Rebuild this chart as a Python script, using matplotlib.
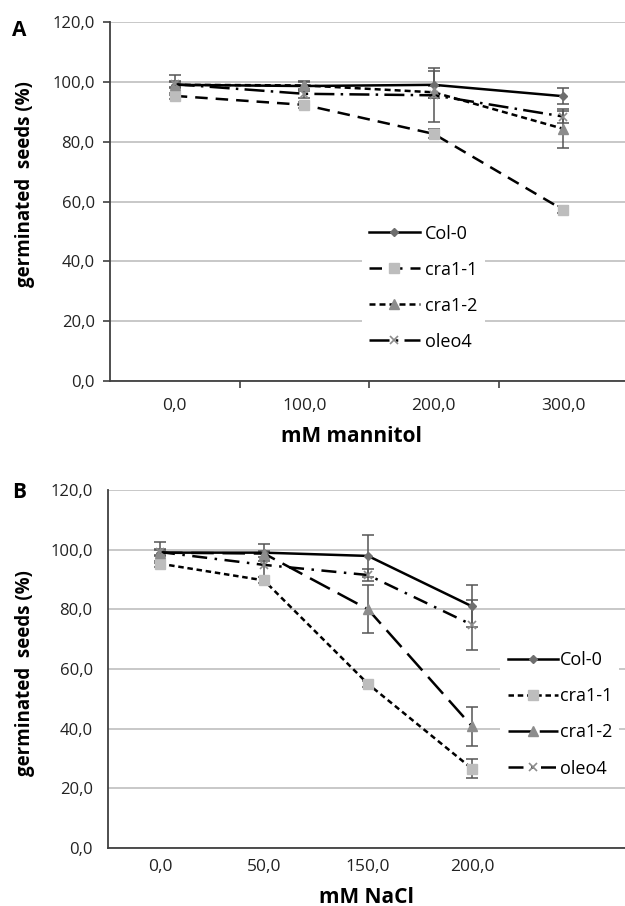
"""
Germination of seeds under mannitol and NaCl stress (two panels)
"""

import matplotlib
matplotlib.use('Agg')
import matplotlib.pyplot as plt
from matplotlib.lines import Line2D
from matplotlib.ticker import FuncFormatter

plt.rcParams['font.family'] = ['Open Sans', 'DejaVu Sans']

genotypes = ['Col-0', 'cra1-1', 'cra1-2', 'oleo4']

# Panel A: mannitol
mannitol_labels = ['0,0', '100,0', '200,0', '300,0']
mannitol_mean = {
    'Col-0': [99.0, 98.6, 99.0, 95.2],
    'cra1-1': [95.3, 92.3, 82.6, 57.2],
    'cra1-2': [99.0, 98.8, 96.5, 84.3],
    'oleo4': [99.2, 96.0, 95.5, 88.4],
}
mannitol_err = {
    'Col-0': [3.4, 1.5, 4.5, 2.7],
    'cra1-1': [1.0, 1.0, 1.5, 1.2],
    'cra1-2': [1.0, 1.5, 2.0, 6.5],
    'oleo4': [1.0, 1.5, 9.0, 2.0],
}

# Panel B: NaCl
nacl_labels = ['0,0', '50,0', '150,0', '200,0']
nacl_mean = {
    'Col-0': [99.0, 99.0, 97.9, 81.0],
    'cra1-1': [95.3, 89.7, 55.0, 26.6],
    'cra1-2': [99.0, 98.7, 80.0, 40.8],
    'oleo4': [99.2, 94.9, 91.5, 74.8],
}
nacl_err = {
    'Col-0': [3.6, 2.8, 7.0, 7.0],
    'cra1-1': [1.0, 1.0, 1.0, 3.3],
    'cra1-2': [1.0, 1.0, 8.0, 6.5],
    'oleo4': [1.0, 4.0, 2.0, 8.3],
}

W, H = 625, 906
LW = 1.8

markers = {
    'Col-0': dict(marker='D', ms=4.5, mfc='#6e6e6e', mec='#6e6e6e'),
    'cra1-1': dict(marker='s', ms=6.5, mfc='#bdbdbd', mec='#bdbdbd'),
    'cra1-2': dict(marker='^', ms=6.5, mfc='#8c8c8c', mec='#8c8c8c'),
    'oleo4': dict(marker='x', ms=6, mfc='#8c8c8c', mec='#8c8c8c', mew=1.2),
}

dashes_a = {
    'Col-0': (None, None),
    'cra1-1': (5.0, 3.2),
    'cra1-2': (2.4, 1.6),
    'oleo4': (8.0, 2.5, 1.0, 2.5),
}
dashes_b = {
    'Col-0': (None, None),
    'cra1-1': (2.2, 1.5),
    'cra1-2': (9.0, 3.5),
    'oleo4': (6.0, 3.0, 1.0, 3.0),
}


def comma_fmt(v, pos):
    return f'{v:.1f}'.replace('.', ',')


def make_axes(fig, left, right, bottom_px, top_px):
    ax = fig.add_axes([left / W, (H - bottom_px) / H,
                       (right - left) / W, (bottom_px - top_px) / H])
    ax.set_ylim(0, 120)
    ax.set_yticks(range(0, 121, 20))
    ax.yaxis.set_major_formatter(FuncFormatter(comma_fmt))
    ax.grid(axis='y', color='#c4c4c4', linewidth=1.3)
    ax.set_axisbelow(True)
    for s in ['top', 'right']:
        ax.spines[s].set_visible(False)
    for s in ['left', 'bottom']:
        ax.spines[s].set_color('#404040')
        ax.spines[s].set_linewidth(1.3)
    ax.tick_params(axis='y', labelsize=12, colors='#222222', pad=6)
    ax.tick_params(axis='x', labelsize=12.5, colors='#222222')
    return ax


def draw_series(ax, labels, means, errs, dashes):
    x = list(range(len(labels)))
    handles = []
    for g in genotypes:
        ax.errorbar(x, means[g], yerr=errs[g], fmt='none', ecolor='#555555',
                    elinewidth=1.1, capsize=4, capthick=1.1, zorder=3)
        style = dict(color='black', linewidth=LW, **markers[g])
        line, = ax.plot(x, means[g], zorder=4, **style)
        if dashes[g][0] is not None:
            line.set_dashes(dashes[g])
        h = Line2D([0], [0], **style)
        if dashes[g][0] is not None:
            h.set_dashes(dashes[g])
        handles.append(h)
    return handles


fig = plt.figure(figsize=(W / 100, H / 100), dpi=100)

# Panel A
ax = make_axes(fig, 110, 628, 381, 22)
handles = draw_series(ax, mannitol_labels, mannitol_mean, mannitol_err, dashes_a)
ax.set_xlim(-0.5, 3.5)
ax.set_xticks([0, 1, 2, 3])
ax.set_xticklabels(mannitol_labels)
ax.set_xticks([0.5, 1.5, 2.5], minor=True)
ax.tick_params(axis='x', which='major', length=0, pad=12)
ax.tick_params(axis='x', which='minor', length=5, color='#404040', width=1.2)
ax.tick_params(axis='y', length=5, color='#404040', width=1.2)
ax.set_xlabel('mM mannitol', fontsize=15, fontweight='bold')
ax.xaxis.set_label_coords((351 - 110) / 518, -0.125)
ax.set_ylabel('germinated  seeds (%)', fontsize=13.5, fontweight='bold')
ax.yaxis.set_label_coords((25 - 110) / 518, 0.549)
ax.yaxis.label.set_va('center')
ax.legend(handles, genotypes, loc='center', bbox_to_anchor=(0.605, 0.26),
          fontsize=13, handlelength=2.8, handletextpad=0.3,
          labelspacing=1.0, frameon=True, fancybox=False,
          edgecolor='none', facecolor='white', framealpha=1)
fig.text(12 / W, 1 - 30 / H, 'A', fontsize=15, fontweight='bold', va='center')

# Panel B
ax = make_axes(fig, 108, 628, 848, 490)
handles = draw_series(ax, nacl_labels, nacl_mean, nacl_err, dashes_b)
ax.set_xlim(-0.5, 4.5)
ax.set_xticks([0, 1, 2, 3])
ax.set_xticklabels(nacl_labels)
ax.tick_params(axis='both', length=0)
ax.tick_params(axis='x', pad=8)
ax.tick_params(axis='y', pad=11)
ax.set_xlabel('mM NaCl', fontsize=15, fontweight='bold')
ax.xaxis.set_label_coords((366 - 108) / 520, -0.108)
ax.set_ylabel('germinated  seeds (%)', fontsize=13.5, fontweight='bold')
ax.yaxis.set_label_coords((25 - 108) / 520, 0.49)
ax.yaxis.label.set_va('center')
ax.legend(handles, genotypes, loc='center', bbox_to_anchor=(0.869, 0.373),
          fontsize=13, handlelength=2.8, handletextpad=0.1,
          labelspacing=1.0, frameon=True, fancybox=False,
          edgecolor='none', facecolor='white', framealpha=1)
fig.text(12 / W, 1 - 492 / H, 'B', fontsize=15, fontweight='bold', va='center')

fig.savefig('out.png', dpi=100)
